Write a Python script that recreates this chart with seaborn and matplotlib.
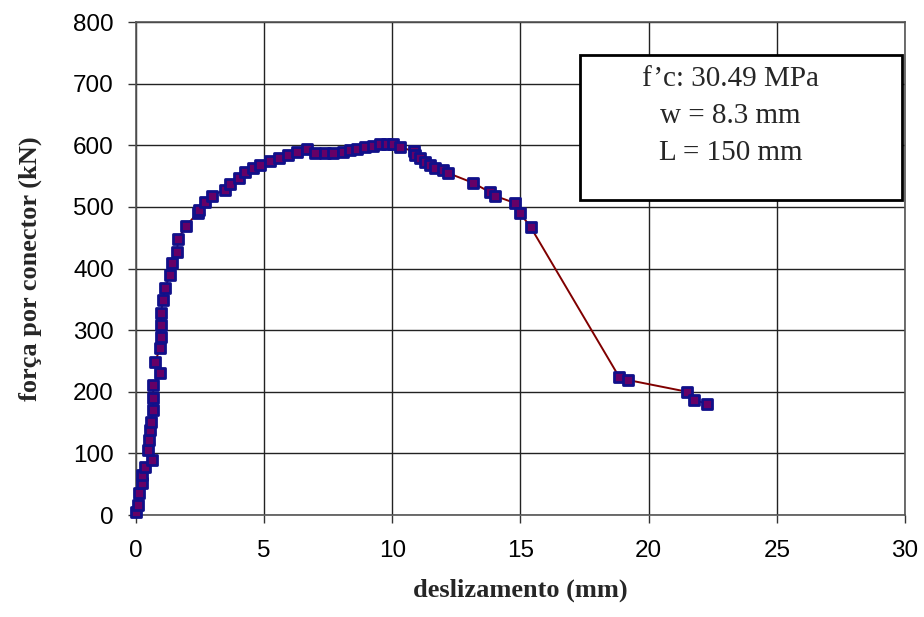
import matplotlib
matplotlib.use("Agg")
import matplotlib.pyplot as plt
import seaborn as sns
import pandas as pd
from matplotlib.patches import Rectangle

# Data
slip_mm = [0.00, 0.08, 0.10, 0.23, 0.25, 0.35, 0.62, 0.47, 0.50, 0.55, 0.58, 0.67,
           0.67, 0.67, 0.94, 0.74, 0.94, 0.96, 0.98, 0.98, 1.05, 1.13, 1.33, 1.40,
           1.60, 1.64, 1.95, 2.40, 2.45, 2.70, 2.96, 3.47, 3.67, 4.00, 4.25, 4.57,
           4.84, 5.23, 5.58, 5.93, 6.28, 6.67, 6.98, 7.37, 7.68, 8.07, 8.35, 8.62,
           8.93, 9.25, 9.52, 9.79, 10.03, 10.30, 10.85, 10.90, 11.08, 11.28, 11.47,
           11.67, 11.98, 12.17, 13.15, 13.80, 14.00, 14.80, 14.98, 15.40, 18.85,
           19.20, 21.50, 21.78, 22.28]
force_kN = [5, 16, 35, 52, 65, 78, 89, 105, 122, 138, 151, 170,
            190, 211, 230, 248, 271, 289, 308, 328, 349, 368, 390, 409,
            427, 448, 469, 490, 495, 508, 518, 528, 537, 547, 557, 563,
            568, 575, 579, 584, 589, 594, 588, 588, 588, 589, 592, 594,
            597, 599, 602, 602, 602, 597, 590, 584, 580, 573, 568,
            563, 560, 555, 539, 524, 518, 506, 490, 467, 224,
            219, 200, 187, 180]

x_ticks = [0, 5, 10, 15, 20, 25, 30]
y_ticks = [0, 100, 200, 300, 400, 500, 600, 700, 800]
x_label = "deslizamento (mm)"
y_label = "força por conector (kN)"
box_lines = ["f\u2019c: 30.49 MPa", "w = 8.3 mm", "L = 150 mm"]

df = pd.DataFrame({"slip": slip_mm, "force": force_kN})

sns.set_theme(style="white")
plt.rcParams["font.family"] = ["Liberation Sans", "DejaVu Sans"]

fig = plt.figure(figsize=(9.24, 6.17), dpi=100)
ax = fig.add_axes([0.1472, 0.1653, 0.9794 - 0.1472, 0.9643 - 0.1653])

sns.lineplot(data=df, x="slip", y="force", sort=False, estimator=None,
             color="#800000", linewidth=1.4, ax=ax, zorder=2)
sns.scatterplot(data=df, x="slip", y="force", marker="s", s=52,
                color="#660066", edgecolor="#10108a", linewidth=2.0,
                ax=ax, zorder=3, clip_on=False)

ax.set_xlim(0, 30)
ax.set_ylim(0, 800)
ax.set_xticks(x_ticks)
ax.set_yticks(y_ticks)
ax.tick_params(axis="both", labelsize=17.5, length=6, width=1, color="#333333",
               direction="out", bottom=True, left=True, labelcolor="black")
ax.tick_params(axis="x", pad=12)
ax.tick_params(axis="y", pad=10)
ax.grid(True, color="#222222", linewidth=1)
ax.set_axisbelow(True)
for s in ax.spines.values():
    s.set_color("#555555")
    s.set_linewidth(1.2)

ax.set_xlabel(x_label, fontsize=19, fontweight="bold",
              family=["Liberation Serif", "DejaVu Serif"], labelpad=12)
ax.set_ylabel(y_label, fontsize=19, fontweight="bold",
              family=["Liberation Serif", "DejaVu Serif"], labelpad=22)

# annotation box
rect = Rectangle((17.32, 511), 29.9 - 17.32, 747 - 511, transform=ax.transData,
                 facecolor="white", edgecolor="black", linewidth=2, zorder=4,
                 clip_on=False)
ax.add_patch(rect)
line_y = [707, 648, 588]
for txt, yy in zip(box_lines, line_y):
    ax.text(23.2, yy, txt, ha="center", va="center", fontsize=21,
            family=["Liberation Serif", "DejaVu Serif"], zorder=5)

fig.savefig("out.png", dpi=100)
